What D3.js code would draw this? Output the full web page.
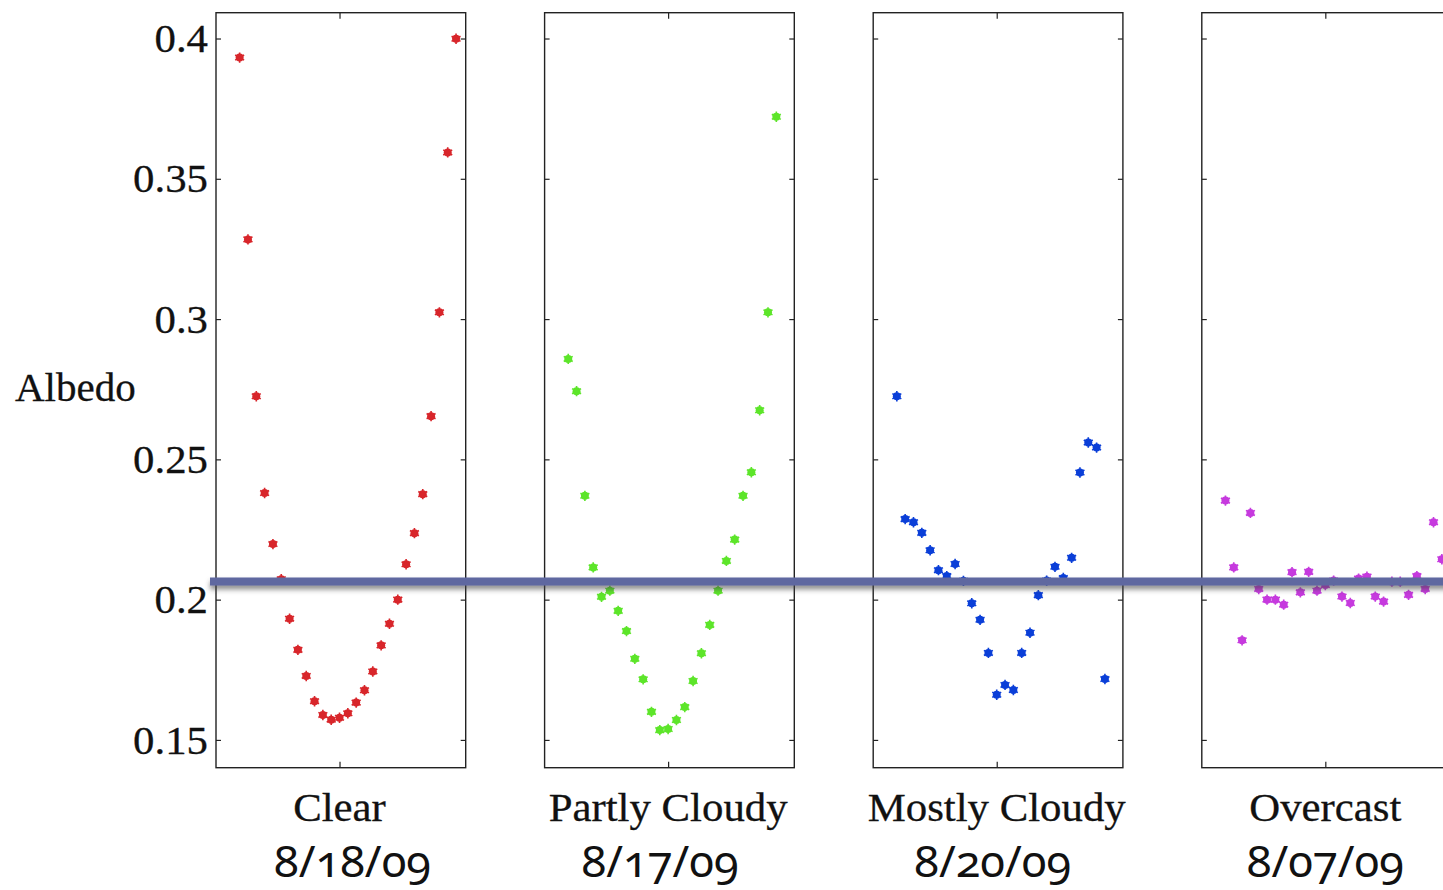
<!DOCTYPE html>
<html>
<head>
<meta charset="utf-8">
<script src="https://cdn.jsdelivr.net/npm/d3@7"></script>
<style>
  html, body { margin: 0; padding: 0; background: #fff; overflow: hidden; }
  svg { display: block; }
</style>
</head>
<body>
<div id="chart"></div>
<script>
// sky conditions and dates shown under each panel
const conditions = ['Clear', 'Partly Cloudy', 'Mostly Cloudy', 'Overcast'];
const dates = ['8/18/09', '8/17/09', '8/20/09', '8/07/09'];
const colors = ['#d8262b', '#5de52a', '#0b3fd8', '#c63ade'];

// hour of day of each sample
const clearHours = [6, 6.5, 7, 7.5, 8, 8.5, 9, 9.5, 10, 10.5, 11, 11.5, 12, 12.5, 13, 13.5, 14, 14.5, 15, 15.5, 16, 16.5, 17, 17.5, 18, 18.5, 19];
const clearAlbedo = [0.3932, 0.3284, 0.2725, 0.2380, 0.2198, 0.2073, 0.1932, 0.1821, 0.1728, 0.1638, 0.1589, 0.1572, 0.1579, 0.1595,
  0.1633, 0.1677, 0.1744, 0.1837, 0.1914, 0.2000, 0.2126, 0.2237, 0.2376, 0.2654, 0.3024, 0.3594, 0.3999];

const partlyHours = [6, 6.5, 7, 7.5, 8, 8.5, 9, 9.5, 10, 10.5, 11, 11.5, 12, 12.5, 13, 13.5, 14, 14.5, 15, 15.5, 16, 16.5, 17, 17.5, 18, 18.5];
const partlyAlbedo = [0.2858, 0.2743, 0.2370, 0.2115, 0.2010, 0.2032, 0.1960, 0.1888, 0.1789, 0.1716, 0.1600, 0.1535, 0.1539,
  0.1571, 0.1617, 0.1710, 0.1809, 0.1910, 0.2032, 0.2138, 0.2214, 0.2370, 0.2454, 0.2675, 0.3024, 0.3721];

const mostlyHours = [6, 6.5, 7, 7.5, 8, 8.5, 9, 9.5, 10, 10.5, 11, 11.5, 12, 12.5, 13, 13.5, 14, 14.5, 15, 15.5, 16, 16.5, 17, 17.5, 18, 18.5];
const mostlyAlbedo = [0.2725, 0.2287, 0.2276, 0.2238, 0.2176, 0.2105, 0.2084, 0.2127, 0.2067, 0.1987, 0.1928, 0.1810, 0.1661,
  0.1696, 0.1678, 0.1810, 0.1882, 0.2016, 0.2068, 0.2117, 0.2077, 0.2149, 0.2453, 0.2560, 0.2542, 0.1717];

const overcastHours = [6, 6.5, 7, 7.5, 8, 8.5, 9, 9.5, 10, 10.5, 11, 11.5, 12, 12.5, 13, 13.5, 14, 14.5, 15, 15.5, 16, 16.5, 17, 17.5, 18, 18.5, 19];
const overcastAlbedo = [0.2353, 0.2115, 0.1855, 0.2309, 0.2038, 0.2000, 0.2000, 0.1982, 0.2098, 0.2026, 0.2099, 0.2032, 0.2052,
  0.2068, 0.2011, 0.1988, 0.2075, 0.2082, 0.2011, 0.1993, 0.2064, 0.2064, 0.2017, 0.2084, 0.2038, 0.2276, 0.2144];

const yTicks = [0.15, 0.2, 0.25, 0.3, 0.35, 0.4];
const referenceAlbedo = 0.2065;

const series = [
  { hours: clearHours, albedo: clearAlbedo },
  { hours: partlyHours, albedo: partlyAlbedo },
  { hours: mostlyHours, albedo: mostlyAlbedo },
  { hours: overcastHours, albedo: overcastAlbedo }
];

const width = 1443, height = 890;
const panelLeft = 216, panelW = 249.7, panelStep = 328.6;
const panelTop = 12.7, panelBottom = 767.7;
const dateShift = [13, -8, -4, 0];
const serif = '"Liberation Serif", "Times New Roman", serif';
const stretch = 1.07;

const svg = d3.select('#chart').append('svg')
  .attr('width', width)
  .attr('height', height);

// a horizontal line has a zero-height bbox, so the filter region is in user space
const defs = svg.append('defs');
const shadow = defs.append('filter')
  .attr('id', 'shadow')
  .attr('filterUnits', 'userSpaceOnUse')
  .attr('x', 0).attr('y', 0)
  .attr('width', width).attr('height', height);
shadow.append('feDropShadow')
  .attr('dx', 0).attr('dy', 4)
  .attr('stdDeviation', 2.8)
  .attr('flood-color', '#444')
  .attr('flood-opacity', 0.6);

const y = d3.scaleLinear()
  .domain([0.1401, 0.4092])
  .range([panelBottom, panelTop]);

const star = d3.symbol().type(d3.symbolAsterisk).size(75);

series.forEach((s, i) => {
  const x0 = panelLeft + i * panelStep;
  const x = d3.scaleLinear().domain([4.58, 19.58]).range([x0, x0 + panelW]);
  const g = svg.append('g');

  // inward ticks on all four sides
  g.append('g')
    .attr('transform', `translate(${x0},0)`)
    .call(d3.axisRight(y).tickValues(yTicks).tickSize(5).tickFormat(''))
    .call(a => a.select('.domain').remove());
  g.append('g')
    .attr('transform', `translate(${x0 + panelW},0)`)
    .call(d3.axisLeft(y).tickValues(yTicks).tickSize(5).tickFormat(''))
    .call(a => a.select('.domain').remove());
  g.append('g')
    .attr('transform', `translate(0,${panelBottom})`)
    .call(d3.axisTop(x).tickValues([12]).tickSize(6).tickFormat(''))
    .call(a => a.select('.domain').remove());
  g.append('g')
    .attr('transform', `translate(0,${panelTop})`)
    .call(d3.axisBottom(x).tickValues([12]).tickSize(6).tickFormat(''))
    .call(a => a.select('.domain').remove());
  g.selectAll('.tick line').attr('stroke', '#222').attr('stroke-width', 1.2);

  g.append('rect')
    .attr('x', x0).attr('y', panelTop)
    .attr('width', panelW).attr('height', panelBottom - panelTop)
    .attr('fill', 'none')
    .attr('stroke', '#222')
    .attr('stroke-width', 1.4);

  const pts = g.selectAll('.pt')
    .data(s.hours.map((h, k) => ({ h, v: s.albedo[k] })))
    .enter().append('g')
    .attr('class', 'pt')
    .attr('transform', d => `translate(${x(d.h)},${y(d.v)})`);
  pts.append('circle').attr('r', 4).attr('fill', colors[i]);
  pts.append('path').attr('d', star).attr('stroke', colors[i]).attr('stroke-width', 1.6).attr('fill', 'none');

  g.append('text')
    .attr('transform', `translate(${x(12)},821) scale(${stretch},1)`)
    .attr('text-anchor', 'middle')
    .style('font-family', serif)
    .style('font-size', '40px')
    .style('fill', '#111')
    .style('stroke', '#111')
    .style('stroke-width', 0.3)
    .text(conditions[i]);

  g.append('text')
    .attr('transform', `translate(${x(12) + dateShift[i]},877) scale(1.05,1)`)
    .attr('text-anchor', 'middle')
    .style('font-family', '"Noto Sans", sans-serif')
    .style('font-variant-numeric', 'oldstyle-nums')
    .style('font-feature-settings', '"onum" 1')
    .style('font-size', '43px')
    .style('fill', '#111')
    .text(dates[i]);
});

// y tick labels on the first panel only
svg.append('g').selectAll('text')
  .data(yTicks)
  .enter().append('text')
  .attr('transform', d => `translate(208,${y(d)}) scale(${stretch},1)`)
  .attr('text-anchor', 'end')
  .attr('dy', '0.34em')
  .style('font-family', serif)
  .style('font-size', '40px')
  .style('fill', '#111')
  .style('stroke', '#111')
  .style('stroke-width', 0.3)
  .text(d => d3.format('')(+d.toFixed(2)));

svg.append('text')
  .attr('transform', `translate(15,401)`)
  .style('font-family', serif)
  .style('font-size', '41px')
  .style('fill', '#111')
  .style('stroke', '#111')
  .style('stroke-width', 0.3)
  .text('Albedo');

// reference albedo bar across the panels
svg.append('line')
  .attr('x1', panelLeft - 6)
  .attr('x2', width + 10)
  .attr('y1', y(referenceAlbedo))
  .attr('y2', y(referenceAlbedo))
  .attr('stroke', '#5f67a0')
  .attr('stroke-width', 8)
  .attr('filter', 'url(#shadow)');
</script>
</body>
</html>
